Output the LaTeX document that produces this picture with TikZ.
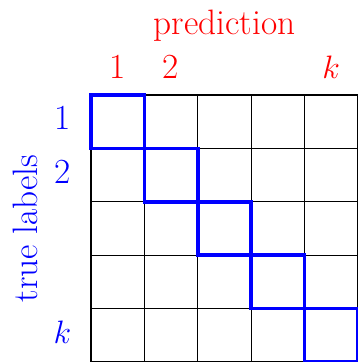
\documentclass[tikz,border=0pt]{standalone}
\usepackage{xcolor}
\usepackage{tikz}
\usetikzlibrary{positioning}
\definecolor{predred}{RGB}{255,0,0}
\definecolor{trueblue}{RGB}{0,0,255}
\tikzset{
    gridline/.style={draw=black, line width=0.6pt},
    diagbox/.style={draw=trueblue, line width=1.9pt},
    predlabel/.style={text=predred, font=\fontsize{18.8}{22}\selectfont, anchor=base, inner sep=0pt},
    truelabel/.style={text=trueblue, font=\fontsize{18.8}{22}\selectfont, anchor=base, inner sep=0pt}
}

\begin{document}
\begin{tikzpicture}

\useasboundingbox (-1.704,1.779) rectangle (4.99,-5.0);

% confusion grid
\draw[gridline] (0,0) grid (5,-5);
\foreach \i in {0,...,4} {
    \draw[diagbox] (\i,-\i) rectangle ++(1,-1);
}

% column headers
\node[predlabel] (pred) at (2.5,1.142) {prediction};
\node[predlabel] (col1) at (0.5,0.318) {1};
\node[predlabel] (col2) at (1.5,0.318) {2};
\node[predlabel] (colk) at (4.5,0.318) {$k$};

% row headers
\node[truelabel, rotate=90] (truelab) at (-1.011,-2.5) {true labels};
\node[truelabel] (row1) at (-0.534,-0.655) {1};
\node[truelabel] (row2) at (-0.534,-1.655) {2};
\node[truelabel] (rowk) at (-0.534,-4.655) {$k$};

\end{tikzpicture}
\end{document}
